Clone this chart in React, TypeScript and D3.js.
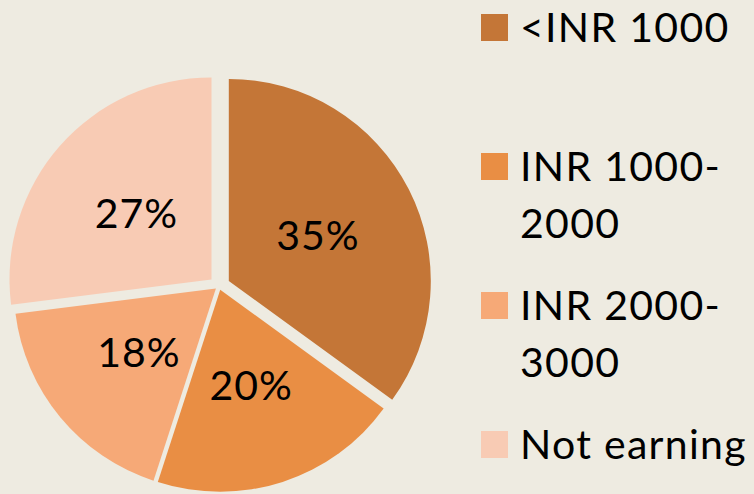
import * as d3 from "d3"

const categories = ["<INR 1000", "INR 1000-2000", "INR 2000-3000", "Not earning"]
const values = [35, 20, 18, 27]
const legendLines = [["<INR 1000"], ["INR 1000-", "2000"], ["INR 2000-", "3000"], ["Not earning"]]
const colors = ["#C47637", "#E98E44", "#F6A977", "#F8CBB4"]
const explode = [11, 4, 4, 10]

const W = 754
const H = 494
const cx = 219
const cy = 286
const r = 202
const font = "Lato, 'Open Sans', sans-serif"

export default function App() {
  const pie = d3
    .pie<number>()
    .sort(null)
    .value((d) => d)
  const arcs = pie(values)
  const arc = d3.arc<d3.PieArcDatum<number>>().innerRadius(0).outerRadius(r)
  const labelArc = d3.arc<d3.PieArcDatum<number>>().innerRadius(100).outerRadius(100)

  return (
    <svg
      width={W}
      height={H}
      viewBox={`0 0 ${W} ${H}`}
      style={{ position: "absolute", left: 0, top: 0, background: "#EEEBE1" }}
    >
      <rect width={W} height={H} fill="#EEEBE1" />
      <g transform={`translate(${cx},${cy})`}>
        {arcs.map((a, i) => {
          const mid = (a.startAngle + a.endAngle) / 2
          const dx = Math.sin(mid) * explode[i]
          const dy = -Math.cos(mid) * explode[i]
          const [lx, ly] = labelArc.centroid(a)
          return (
            <g key={categories[i]} transform={`translate(${dx},${dy})`}>
              <path d={arc(a) ?? ""} fill={colors[i]} />
              <text
                x={lx}
                y={ly}
                dy="0.36em"
                textAnchor="middle"
                fontFamily={font}
                fontSize={41}
                letterSpacing={1}
                fill="#000"
              >
                {values[i]}%
              </text>
            </g>
          )
        })}
      </g>
      {legendLines.map((lines, i) => {
        const y0 = 14 + i * 139
        return (
          <g key={categories[i]}>
            <rect x={481} y={y0} width={27} height={27} fill={colors[i]} />
            {lines.map((t, j) => (
              <text
                key={t}
                x={520}
                y={y0 + 28 + j * 57}
                fontFamily={font}
                fontSize={41}
                letterSpacing={1.3}
                fill="#000"
              >
                {t}
              </text>
            ))}
          </g>
        )
      })}
    </svg>
  )
}
